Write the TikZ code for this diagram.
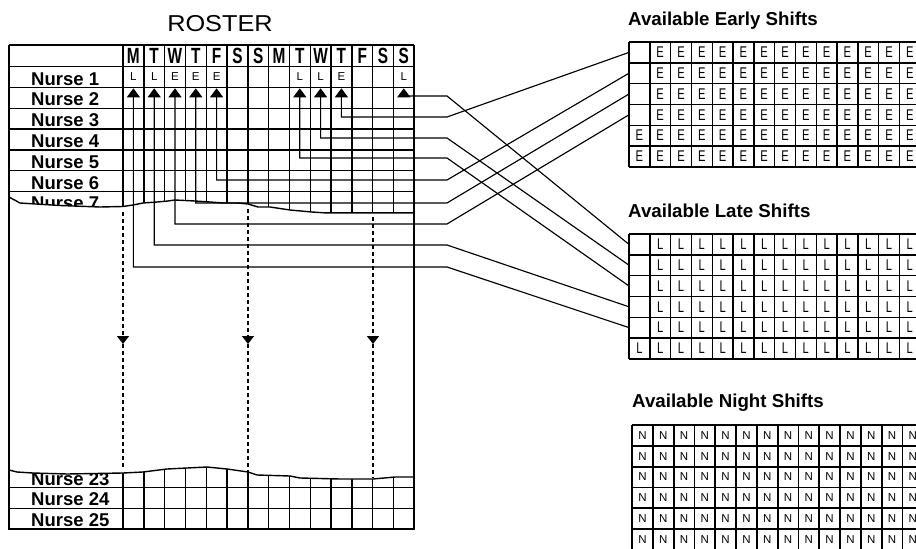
\documentclass[tikz,border=0pt]{standalone}
\usepackage{fontspec}
\setmainfont{Liberation Sans}
\usetikzlibrary{arrows.meta}
\begin{document}
\begin{tikzpicture}[x=1pt,y=-1pt,
  gridline/.style={line width=1.4pt},
  nightgrid/.style={line width=1.8pt},
  conn/.style={line width=1.15pt},
  uparrow/.style={conn,-{Triangle[width=13pt,length=9pt]}},
  dashline/.style={line width=1.4pt,dash pattern=on 4pt off 3pt},
  dnarrow/.style={dashline,-{Triangle[width=12pt,length=8pt]}},
  nurselbl/.style={font=\fontsize{18.5}{18.5}\selectfont\bfseries,anchor=base west,inner sep=0pt},
  daylbl/.style={font=\fontsize{22}{22}\selectfont\bfseries,anchor=base,inner sep=0pt,xscale=0.7},
  celllbl/.style={font=\fontsize{11.5}{11.5}\selectfont,anchor=base,inner sep=0pt},
  shiftlbl/.style={font=\fontsize{15.5}{15.5}\selectfont,inner sep=0pt,xscale=0.72},
  nightlbl/.style={font=\fontsize{11.5}{11.5}\selectfont,inner sep=0pt},
  titlelbl/.style={font=\fontsize{18.7}{18.7}\selectfont\bfseries,anchor=base west,inner sep=0pt},
]
\useasboundingbox (0,0) rectangle (916,549);
\clip (0,0) rectangle (916,549);
\fill[white] (0,0) rectangle (916,549);

% ---------------- ROSTER ----------------
\node[font=\fontsize{23}{23}\selectfont,anchor=base,inner sep=0pt,xscale=1.1] (title) at (220,31) {ROSTER};

% upper grid
\foreach \y in {45,66.6,87.4,108.2,129,149.8,170.6,191.4,212.2}
  \draw[gridline] (9,\y) -- (414,\y);
\foreach \k in {0,...,14}
  \draw[gridline] ({123+20.8*\k},45) -- ({123+20.8*\k},216);
% lower grid
\foreach \y in {466.6,487.4,508.2,529}
  \draw[gridline] (9,\y) -- (414,\y);
\foreach \k in {0,...,14}
  \draw[gridline] ({123+20.8*\k},460) -- ({123+20.8*\k},529);

% nurse labels
\foreach \i in {1,...,7}
  \node[nurselbl] (nurse\i) at (31,{66.6+20.8*\i-2.3}) {Nurse \i};
\node[nurselbl] (nurse23) at (31,485.1) {Nurse 23};
\node[nurselbl] (nurse24) at (31,505.9) {Nurse 24};
\node[nurselbl] (nurse25) at (31,526.7) {Nurse 25};

% day header
\foreach \d [count=\k from 0] in {M,T,W,T,F,S,S,M,T,W,T,F,S,S}
  \node[daylbl] (day\k) at ({133.4+20.8*\k},63) {\d};

% nurse 1 shifts
\foreach \k/\s in {0/L,1/L,2/E,3/E,4/E,8/L,9/L,10/E,13/L}
  \node[celllbl] (sh\k) at ({133.4+20.8*\k},80.5) {\s};

% blank break region
\fill[white] (9.8,197) -- (20,203) -- (60,205.5) -- (100,207) -- (123,206.5) -- (133,205) -- (143,203) -- (157,202) -- (168,201) -- (175,200) -- (195,201) -- (210,202) -- (223,203) -- (238,203) -- (248,204) -- (258,207) -- (270,207) -- (290,210) -- (312,212) -- (327,213) -- (393,213) -- (413.2,213)
  -- (413.2,477) -- (395,477) -- (373,479) -- (340,479) -- (300,478) -- (290,476) -- (257,475) -- (248,472) -- (227,469) -- (207,467) -- (187,468) -- (167,469) -- (143,472) -- (123,473) -- (67,474) -- (33,473) -- (17,472) -- (9.8,470) -- cycle;
\draw[gridline] (9,197) -- (20,203) -- (60,205.5) -- (100,207) -- (123,206.5) -- (133,205) -- (143,203) -- (157,202) -- (168,201) -- (175,200) -- (195,201) -- (210,202) -- (223,203) -- (238,203) -- (248,204) -- (258,207) -- (270,207) -- (290,210) -- (312,212) -- (327,213) -- (393,213) -- (414,213);
\draw[gridline] (9,470) -- (17,472) -- (33,473) -- (67,474) -- (123,473) -- (143,472) -- (167,469) -- (187,468) -- (207,467) -- (227,469) -- (248,472) -- (257,475) -- (290,476) -- (300,478) -- (340,479) -- (373,479) -- (395,477) -- (414,477);
\draw[gridline] (9,45) -- (9,529.5);
\draw[gridline] (414,45) -- (414,529.5);

% ---------------- SHIFT TABLES ----------------
% early
\node[titlelbl] (earlytitle) at (628,25) {Available Early Shifts};
\foreach \r in {0,...,6}
  \draw[gridline] (629,{42+20.8*\r}) -- (925,{42+20.8*\r});
\foreach \c in {0,...,14}
  \draw[gridline] ({629+20.8*\c},42) -- ({629+20.8*\c},166.8);
\foreach \r in {1,...,6}
  \foreach \c in {1,...,13}
    \node[shiftlbl] (e\r-\c) at ({639.4+20.8*\c},{31.6+20.8*\r}) {E};
\foreach \r in {5,6}
  \node[shiftlbl] (e\r-0) at (639.4,{31.6+20.8*\r}) {E};
\foreach \r in {1,...,4}
  \coordinate (er\r) at (629,{31.6+20.8*\r});

% late
\node[titlelbl] (latetitle) at (628,217) {Available Late Shifts};
\foreach \r in {0,...,6}
  \draw[gridline] (629,{234+20.8*\r}) -- (925,{234+20.8*\r});
\foreach \c in {0,...,14}
  \draw[gridline] ({629+20.8*\c},234) -- ({629+20.8*\c},358.8);
\foreach \r in {1,...,6}
  \foreach \c in {1,...,13}
    \node[shiftlbl] (l\r-\c) at ({639.4+20.8*\c},{223.6+20.8*\r}) {L};
\node[shiftlbl] (l6-0) at (639.4,{223.6+20.8*6}) {L};
\foreach \r in {1,...,5}
  \coordinate (lr\r) at (629,{223.6+20.8*\r});

% night
\node[titlelbl] (nighttitle) at (632,407) {Available Night Shifts};
\foreach \r in {0,...,6}
  \draw[nightgrid] (632,{425+20.8*\r}) -- (925,{425+20.8*\r});
\foreach \c in {0,...,14}
  \draw[nightgrid] ({632+20.8*\c},425) -- ({632+20.8*\c},560);
\foreach \r in {1,...,6}
  \foreach \c in {0,...,13}
    \node[nightlbl] (n\r-\c) at ({642.4+20.8*\c},{414.6+20.8*\r}) {N};

% ---------------- CONNECTORS ----------------
\foreach \k/\yy/\t in {0/267/lr5, 1/245/lr4, 2/224/er4, 3/203/er3, 4/180/er2, 8/158/lr3, 9/138/lr2, 10/117/er1, 13/96/lr1}{
  \coordinate (tip\k) at ({133.4+20.8*\k},88.3);
  \coordinate (turn\k) at (447,\yy);
  \draw[uparrow] (\t) -- (turn\k) -| (tip\k);
}

% dashed continuation arrows
\foreach \x/\i/\yt/\yb in {123/1/212/468, 248/2/209/472, 373/3/217/478}{
  \coordinate (dtop\i) at (\x,\yt);
  \coordinate (dmid\i) at (\x,344);
  \coordinate (dbot\i) at (\x,\yb);
  \draw[dnarrow] (dtop\i) -- (dmid\i);
  \draw[dashline] (dmid\i) -- (dbot\i);
}
\end{tikzpicture}
\end{document}
